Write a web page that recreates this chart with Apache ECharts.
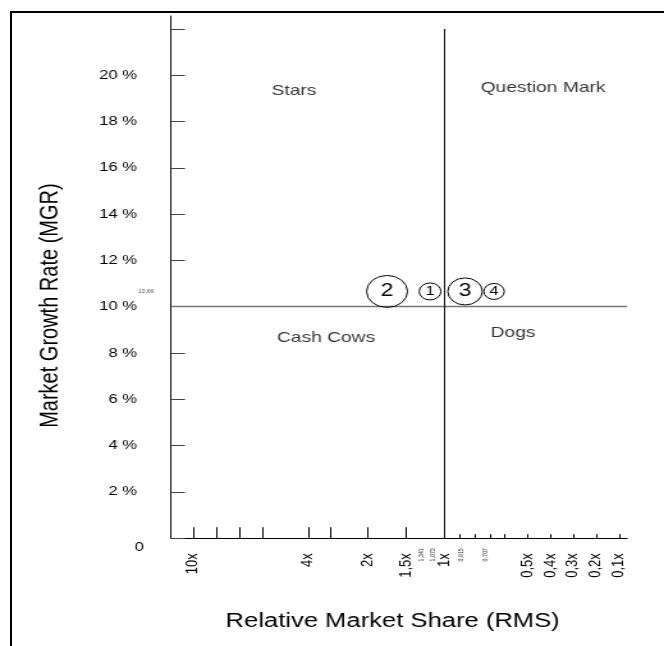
<!DOCTYPE html>
<html>
<head>
<meta charset="utf-8">
<script src="https://cdn.jsdelivr.net/npm/echarts@6/dist/echarts.min.js"></script>
<style>
html,body{margin:0;padding:0;background:#fff;overflow:hidden;width:664px;height:646px;}
#frame{position:absolute;left:10px;top:11px;width:700px;height:700px;border-top:2px solid #000;border-left:2px solid #000;box-sizing:border-box;}
#chart{position:absolute;left:0;top:0;width:519px;height:646px;transform:scaleX(1.2794);transform-origin:0 0;}
</style>
</head>
<body>
<div id="frame"></div>
<div id="chart"></div>
<script>
// ---- data ----
// x axis is a positional RMS scale (units along the axis, 0..456)
const xAxisMax = 456;
const xTickTallPos = [22, 45, 68, 91, 137, 159, 197, 235];
const xTickShortPos = [289, 304, 319, 334, 357, 380, 402, 425, 448];
const xMajorLabelPos = [22, 137, 197, 235, 273, 357, 380, 402, 425, 448];
const xMajorLabels = ['10x', '4x', '2x', '1,5x', '1x', '0,5x', '0,4x', '0,3x', '0,2x', '0,1x'];
const xMinorLabelPos = [250, 262, 290, 315];
const xMinorLabels = ['1,341', '1,073', '0,915', '0,707'];

const yMax = 22.56;
const yTickValues = [0, 2, 4, 6, 8, 10, 12, 14, 16, 18, 20, 22];
const yLabelValues = [0, 2, 4, 6, 8, 10, 12, 14, 16, 18, 20];
const avgMGR = 10.66;

const mgrThreshold = 10;
const rmsThresholdPos = 273;
const rmsThresholdTop = 22;

const bubbleIds = ['2', '1', '3', '4'];
const bubbleX = [216, 259, 294, 323];
const bubbleMGR = [10.66, 10.66, 10.66, 10.66];
const bubbleSize = [32, 17, 27, 16];

const quadrantNames = ['Stars', 'Question Mark', 'Cash Cows', 'Dogs'];
const quadrantX = [123, 372, 155, 342];
const quadrantY = [19.32, 19.45, 8.65, 8.86];

// ---- chart ----
const FONT = '"Liberation Sans", Arial, sans-serif';
const chart = echarts.init(document.getElementById('chart'), null, {renderer: 'canvas'});

const option = {
  animation: false,
  backgroundColor: 'transparent',
  grid: {left: 133.7, right: 28.9, top: 16, bottom: 107.8, containLabel: false, outerBoundsMode: 'none'},
  xAxis: [
    {
      type: 'value', min: 0, max: xAxisMax, position: 'bottom',
      axisLine: {show: true, onZero: false, lineStyle: {color: '#000', width: 1}},
      axisTick: {show: true, inside: true, length: 11, customValues: xTickTallPos, lineStyle: {color: '#000', width: 1}},
      axisLabel: {
        show: true, customValues: xMajorLabelPos, rotate: 90, margin: 15,
        fontSize: 13, color: '#000', fontFamily: FONT,
        formatter: v => { const i = xMajorLabelPos.indexOf(v); return i >= 0 ? xMajorLabels[i] : ''; }
      },
      splitLine: {show: false},
      name: 'Relative Market Share (RMS)', nameLocation: 'middle', nameGap: 73,
      nameTextStyle: {fontSize: 20, color: '#000', fontFamily: FONT, padding: [0, 10, 0, 0]}
    },
    {
      type: 'value', min: 0, max: xAxisMax, position: 'bottom',
      axisLine: {show: false, onZero: false},
      axisTick: {show: true, inside: true, length: 4, customValues: xTickShortPos, lineStyle: {color: '#000', width: 1}},
      axisLabel: {
        show: true, customValues: xMinorLabelPos, rotate: 90, margin: 10,
        fontSize: 5.3, color: '#333', fontFamily: FONT,
        formatter: v => { const i = xMinorLabelPos.indexOf(v); return i >= 0 ? xMinorLabels[i] : ''; }
      },
      splitLine: {show: false}
    }
  ],
  yAxis: [
    {
      type: 'value', min: 0, max: yMax, position: 'left',
      axisLine: {show: true, onZero: false, lineStyle: {color: '#111', width: 1}},
      axisTick: {show: true, inside: true, length: 10.9, customValues: yTickValues, lineStyle: {color: '#444', width: 1}},
      axisLabel: {
        show: true, customValues: yLabelValues, margin: 21.2,
        formatter: v => v === 0 ? '{z|0}' : '{n|' + v + ' %}',
        rich: {
          n: {fontSize: 13, color: '#000', fontFamily: FONT, padding: [0, 5.4, 0, 0]},
          z: {fontSize: 13, color: '#000', fontFamily: FONT, padding: [18, 0, 0, 0]}
        }
      },
      splitLine: {show: false},
      name: 'Market Growth Rate (MGR)', nameLocation: 'middle', nameGap: 84,
      nameTextStyle: {fontSize: 20, color: '#000', fontFamily: FONT, padding: [0, 57, 0, 0]}
    },
    {
      type: 'value', min: 0, max: yMax, position: 'left',
      axisLine: {show: false, onZero: false},
      axisTick: {show: false},
      axisLabel: {
        show: true, customValues: [avgMGR], margin: 13.3,
        fontSize: 5, color: '#555', fontFamily: FONT,
        formatter: v => String(v).replace('.', ',')
      },
      splitLine: {show: false}
    }
  ],
  series: [
    {
      type: 'scatter', name: 'products', xAxisIndex: 0, yAxisIndex: 0, z: 5,
      symbol: 'circle',
      symbolSize: v => v[2],
      data: bubbleIds.map((id, i) => ({
        name: id,
        value: [bubbleX[i], bubbleMGR[i], bubbleSize[i]],
        label: {fontSize: bubbleSize[i] >= 20 ? 18 : 13}
      })),
      itemStyle: {color: 'rgba(255,255,255,0)', borderColor: '#000', borderWidth: 1, opacity: 1},
      label: {show: true, position: 'inside', formatter: p => p.name, color: '#000', fontFamily: FONT},
      emphasis: {disabled: true},
      markLine: {
        silent: true, symbol: 'none', label: {show: false}, animation: false,
        emphasis: {disabled: true},
        data: [
          {yAxis: mgrThreshold, lineStyle: {color: '#777', width: 1.3, type: 'solid'}},
          [
            {coord: [rmsThresholdPos, 0], lineStyle: {color: '#000', width: 1, type: 'solid'}},
            {coord: [rmsThresholdPos, rmsThresholdTop]}
          ]
        ]
      }
    },
    {
      type: 'scatter', name: 'quadrants', xAxisIndex: 0, yAxisIndex: 0, z: 4,
      symbolSize: 1,
      itemStyle: {color: 'rgba(0,0,0,0)'},
      data: quadrantNames.map((n, i) => ({name: n, value: [quadrantX[i], quadrantY[i]]})),
      label: {show: true, position: 'inside', formatter: p => p.name, color: '#000', fontSize: 15, fontFamily: FONT},
      emphasis: {disabled: true}
    }
  ]
};
chart.setOption(option);
</script>
</body>
</html>
